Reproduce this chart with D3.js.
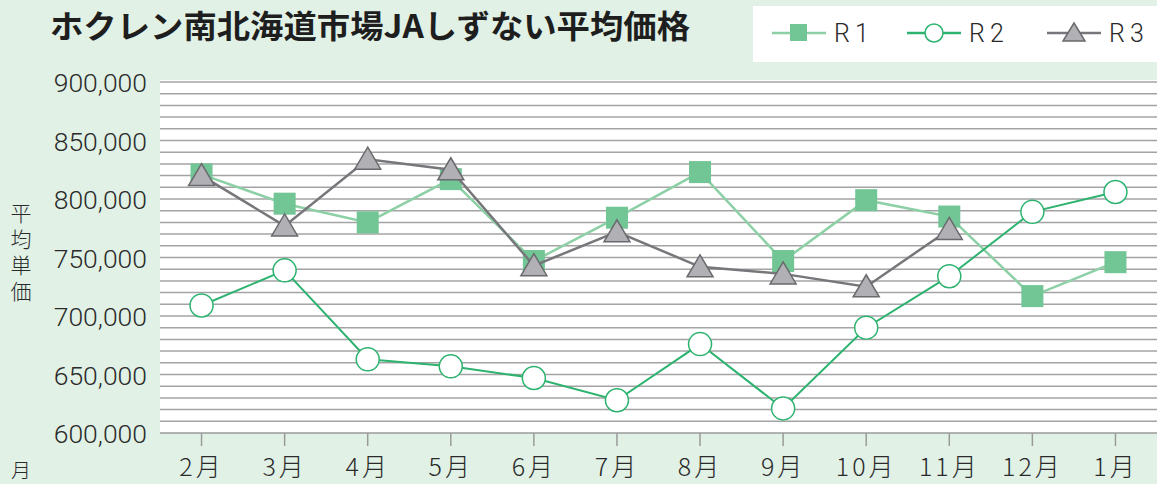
<!DOCTYPE html>
<html>
<head>
<meta charset="utf-8">
<script src="https://cdn.jsdelivr.net/npm/d3@7"></script>
<style>
  body { margin:0; background:#e1f1e6; }
  svg { display:block; }
</style>
</head>
<body>
<svg id="chart"></svg>
<script>
// data
let months = ["2月","3月","4月","5月","6月","7月","8月","9月","10月","11月","12月","1月"];
let r1 = [821000, 796000, 780000, 817000, 747000, 784000, 823000, 747000, 799000, 785000, 717000, 746000];
let r2 = [709000, 739000, 663000, 657000, 647000, 628000, 676000, 621000, 690000, 734000, 789000, 806000];
let r3 = [820000, 777000, 834000, 825000, 743000, 772000, 742000, 736000, 725000, 774000, null, null];
let yTicks = [600000, 650000, 700000, 750000, 800000, 850000, 900000];
let seriesNames = ["R1", "R2", "R3"];

let width = 1157, height = 484;
let plot = {left:160, right:1157, top:82, bottom:433};

let svg = d3.select("#chart")
  .attr("width", width)
  .attr("height", height)

// colors
let r1_line = "#8dd0a6", r1_fill = "#72c594";
let r2_line = "#2db36f";
let r3_line = "#77777b", r3_fill = "#b1b1b5", r3_stroke = "#6a6a6e";
let grid_color = "#a3a3a3";

let x = d3.scaleBand().domain(months).range([plot.left, plot.right]);
let y = d3.scaleLinear().domain([600000, 900000]).range([plot.bottom, plot.top]);
let cx = d => x(d) + x.bandwidth()/2;

// white plot area
svg.append("rect")
  .attr("x", plot.left).attr("y", plot.top - 2)
  .attr("width", plot.right - plot.left).attr("height", plot.bottom - plot.top + 2)
  .attr("fill", "white")

// grid lines every 10,000
let gridVals = d3.range(610000, 900001, 10000);
svg.append("g").selectAll("line")
  .data(gridVals)
  .enter().append("line")
  .attr("x1", plot.left).attr("x2", plot.right)
  .attr("y1", d => y(d)).attr("y2", d => y(d))
  .attr("stroke", grid_color)
  .attr("stroke-width", 1.5)

// y axis labels
let yAxis = d3.axisLeft(y).tickValues(yTicks).tickSize(0).tickPadding(13)
  .tickFormat(d3.format(","));
let gy = svg.append("g")
  .attr("transform", "translate(" + plot.left + ",0)")
  .call(yAxis)
gy.select(".domain").remove()
gy.selectAll("text")
  .attr("font-family", "Roboto, 'Noto Sans', sans-serif")
  .attr("font-weight", 300)
  .attr("font-size", 26.5)
  .attr("fill", "#2a2a2a")
  .attr("dy", "0.36em")

// x axis
let xAxis = d3.axisBottom(x).tickSize(13).tickPadding(12);
let gx = svg.append("g")
  .attr("transform", "translate(0," + plot.bottom + ")")
  .call(xAxis)
gx.select(".domain")
  .attr("stroke", "#9a9a9a").attr("stroke-width", 1.5)
  .attr("d", "M" + plot.left + ",0H" + plot.right)
gx.selectAll(".tick line").attr("stroke", "#9a9a9a").attr("stroke-width", 1.5)
gx.selectAll("text")
  .attr("font-family", "'Noto Sans CJK JP', sans-serif")
  .attr("font-weight", 300)
  .attr("font-size", 25)
  .attr("fill", "#2a2a2a")
  .attr("letter-spacing", 3)

// lines
let line = d3.line()
  .defined(d => d.v != null)
  .x(d => cx(d.m))
  .y(d => y(d.v));
let pts = arr => months.map((m, i) => ({m: m, v: arr[i]}));

svg.append("path").datum(pts(r1))
  .attr("d", line).attr("fill", "none")
  .attr("stroke", r1_line).attr("stroke-width", 2.5)
svg.append("g").selectAll("rect")
  .data(pts(r1)).enter().append("rect")
  .attr("x", d => cx(d.m) - 11).attr("y", d => y(d.v) - 11)
  .attr("width", 22).attr("height", 22)
  .attr("fill", r1_fill)

svg.append("path").datum(pts(r2))
  .attr("d", line).attr("fill", "none")
  .attr("stroke", r2_line).attr("stroke-width", 2)
svg.append("g").selectAll("circle")
  .data(pts(r2)).enter().append("circle")
  .attr("cx", d => cx(d.m)).attr("cy", d => y(d.v)).attr("r", 11.5)
  .attr("fill", "white").attr("stroke", r2_line).attr("stroke-width", 1.5)

let tri = "M0,-14L13,8L-13,8Z";
svg.append("path").datum(pts(r3))
  .attr("d", line).attr("fill", "none")
  .attr("stroke", r3_line).attr("stroke-width", 2.5)
svg.append("g").selectAll("path")
  .data(pts(r3).filter(d => d.v != null)).enter().append("path")
  .attr("d", tri)
  .attr("transform", d => "translate(" + cx(d.m) + "," + (y(d.v) + 2) + ")")
  .attr("fill", r3_fill).attr("stroke", r3_stroke).attr("stroke-width", 1.5)

// title
svg.append("text")
  .attr("x", 50).attr("y", 38)
  .attr("font-family", "'Noto Sans CJK JP', sans-serif")
  .attr("font-weight", 700)
  .attr("font-size", 32)
  .attr("fill", "#1e1e1e")
  .attr("textLength", 640)
  .attr("lengthAdjust", "spacingAndGlyphs")
  .text("ホクレン南北海道市場JAしずない平均価格")

// y axis title (vertical, one text)
svg.append("text")
  .attr("x", 21).attr("y", 203)
  .style("writing-mode", "vertical-rl")
  .attr("font-family", "'Noto Sans CJK JP', sans-serif")
  .attr("font-weight", 300)
  .attr("font-size", 21)
  .attr("letter-spacing", 5)
  .attr("fill", "#2a2a2a")
  .text("平均単価")

svg.append("text")
  .attr("x", 21).attr("y", 478)
  .attr("text-anchor", "middle")
  .attr("font-family", "'Noto Sans CJK JP', sans-serif")
  .attr("font-weight", 300)
  .attr("font-size", 20)
  .attr("fill", "#2a2a2a")
  .text("月")

// LEGEND
let legend = svg.append("g")
legend.append("rect")
  .attr("x", 753).attr("y", 6).attr("width", 404).attr("height", 56)
  .attr("fill", "white")
let legX = [772, 907, 1047];
let legY = 33;
let legColors = [r1_line, r2_line, r3_line];
seriesNames.forEach(function(name, i) {
  legend.append("line")
    .attr("x1", legX[i]).attr("x2", legX[i] + 54)
    .attr("y1", legY).attr("y2", legY)
    .attr("stroke", legColors[i]).attr("stroke-width", 2.5)
  let mx = legX[i] + 27;
  if (i == 0) {
    legend.append("rect").attr("x", mx - 9).attr("y", legY - 9)
      .attr("width", 17).attr("height", 17).attr("fill", r1_fill)
  } else if (i == 1) {
    legend.append("circle").attr("cx", mx).attr("cy", legY).attr("r", 9)
      .attr("fill", "white").attr("stroke", r2_line).attr("stroke-width", 1.5)
  } else {
    legend.append("path").attr("d", "M0,-11L11,7L-11,7Z")
      .attr("transform", "translate(" + mx + "," + (legY + 1) + ")")
      .attr("fill", r3_fill).attr("stroke", r3_stroke).attr("stroke-width", 1.5)
  }
  legend.append("text")
    .attr("x", legX[i] + 62).attr("y", legY + 9)
    .attr("font-family", "Roboto, 'Noto Sans', sans-serif")
    .attr("font-weight", 300)
    .attr("font-size", 25)
    .attr("letter-spacing", 5)
    .attr("fill", "#2a2a2a")
    .text(name)
})
</script>
</body>
</html>
